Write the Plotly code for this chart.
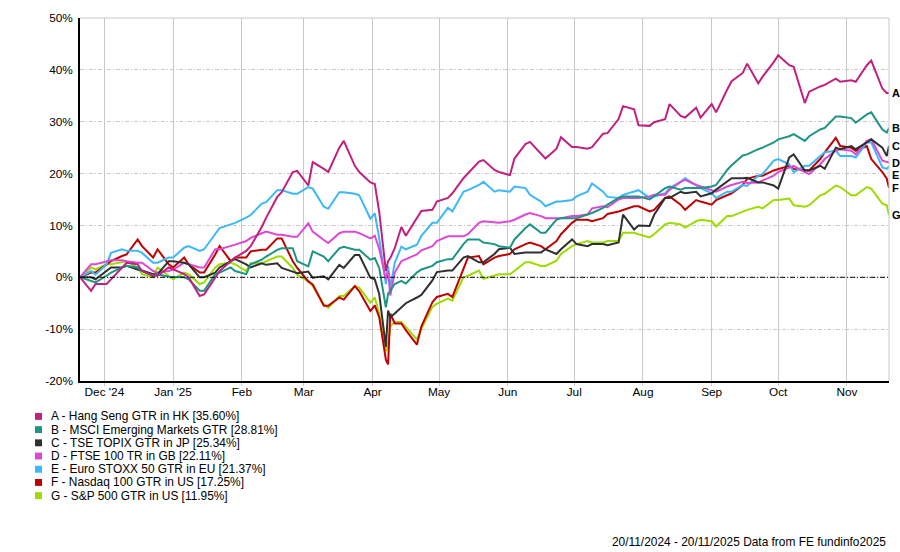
import plotly.graph_objects as go

# roughly twice-weekly closes (denser around the April sell-off), cumulative % return
dates = [
    "2024-11-20", "2024-11-25", "2024-11-27", "2024-12-02", "2024-12-04", "2024-12-09",
    "2024-12-11", "2024-12-16", "2024-12-18", "2024-12-23", "2024-12-25", "2024-12-30",
    "2025-01-01", "2025-01-06", "2025-01-08", "2025-01-13", "2025-01-15", "2025-01-20",
    "2025-01-22", "2025-01-27", "2025-01-29",
    "2025-02-03", "2025-02-05", "2025-02-10", "2025-02-12", "2025-02-17", "2025-02-19",
    "2025-02-24", "2025-02-26",
    "2025-03-03", "2025-03-05", "2025-03-10", "2025-03-12", "2025-03-17", "2025-03-19",
    "2025-03-24", "2025-03-26", "2025-03-31",
    "2025-04-02", "2025-04-04", "2025-04-07", "2025-04-08", "2025-04-09", "2025-04-11",
    "2025-04-14", "2025-04-16", "2025-04-21", "2025-04-23", "2025-04-28", "2025-04-30",
    "2025-05-05", "2025-05-07", "2025-05-12", "2025-05-14", "2025-05-19", "2025-05-21",
    "2025-05-26", "2025-05-28",
    "2025-06-02", "2025-06-04", "2025-06-09", "2025-06-11", "2025-06-16", "2025-06-18",
    "2025-06-23", "2025-06-25", "2025-06-30",
    "2025-07-02", "2025-07-07", "2025-07-09", "2025-07-14", "2025-07-16", "2025-07-21",
    "2025-07-23", "2025-07-28", "2025-07-30",
    "2025-08-04", "2025-08-06", "2025-08-11", "2025-08-13", "2025-08-18", "2025-08-20",
    "2025-08-25", "2025-08-27",
    "2025-09-01", "2025-09-03", "2025-09-08", "2025-09-10", "2025-09-15", "2025-09-17",
    "2025-09-22", "2025-09-24", "2025-09-29",
    "2025-10-01", "2025-10-06", "2025-10-08", "2025-10-13", "2025-10-15", "2025-10-20",
    "2025-10-22", "2025-10-27", "2025-10-29",
    "2025-11-03", "2025-11-05", "2025-11-10", "2025-11-12", "2025-11-17", "2025-11-19",
    "2025-11-20",
]

hang_seng = [
    0.0, -2.6, -1.3, -1.3, -0.4, 1.9, 2.8, 2.5, 1.2, 0.3, 0.3, 1.9,
    1.5, 0.6, 0.0, -3.6, -3.3, 0.0, 1.2, 3.1, 3.8,
    5.1, 6.0, 9.7, 11.5, 15.5, 16.4, 20.3, 20.5,
    17.7, 22.2, 20.9, 20.3, 25.0, 26.3, 21.5, 20.3, 18.3,
    18.0, 12.6, 1.2, 3.1, 3.7, 5.6, 9.7, 8.0, 11.3, 12.8, 13.0, 14.6,
    15.3, 16.2, 19.1, 20.0, 22.3, 22.6, 20.7, 20.3,
    19.7, 22.9, 25.7, 26.1, 23.8, 22.9, 24.8, 27.0, 25.1,
    25.1, 24.8, 25.1, 27.7, 27.8, 30.5, 33.0, 32.4, 29.3,
    29.2, 29.9, 30.5, 33.4, 31.1, 30.8, 32.7, 30.8,
    33.4, 31.8, 36.2, 37.8, 39.4, 41.2, 37.4, 38.7, 41.5,
    42.8, 40.9, 40.6, 33.6, 35.8, 36.8, 37.1, 38.3, 37.7,
    38.0, 37.7, 40.9, 41.8, 36.4, 35.5, 35.60,
]
msci_em = [
    0.0, -0.7, -1.0, 0.3, 0.9, 1.9, 2.2, 1.9, 1.2, 0.3, 0.6, 0.1,
    0.1, 0.0, -0.4, -2.6, -2.6, 0.6, 0.9, 1.9, 1.2,
    0.6, 2.5, 3.4, 4.0, 5.3, 5.6, 5.6, 3.1,
    2.1, 5.0, 4.0, 3.1, 5.6, 5.9, 5.3, 5.3, 3.4,
    3.7, 1.8, -5.8, -3.2, -2.6, -1.3, -0.7, -1.2, 0.9, 1.5, 2.2, 2.9,
    3.5, 3.5, 6.4, 7.3, 7.3, 6.7, 6.4, 6.0,
    5.7, 7.3, 9.5, 10.2, 8.6, 8.6, 11.1, 11.4, 11.4,
    11.4, 12.1, 12.4, 13.4, 14.0, 15.3, 15.6, 15.6, 15.6,
    15.0, 15.6, 17.2, 17.5, 16.9, 17.2, 17.2, 17.2,
    17.5, 17.8, 20.7, 21.6, 23.5, 23.7, 24.7, 25.0, 26.0,
    26.6, 27.2, 27.6, 26.3, 27.2, 28.5, 28.8, 31.0, 31.0,
    30.7, 29.8, 31.4, 31.8, 28.5, 27.9, 28.81,
]
topix = [
    0.0, 0.0, -0.4, 1.2, 1.9, 1.9, 2.2, 1.5, 1.3, 0.6, 0.6, 3.1,
    3.1, 2.8, 2.5, 0.0, 0.0, 0.9, 1.9, 3.1, 3.5,
    2.5, 1.9, 2.7, 2.4, 2.7, 1.8, 1.1, 0.8,
    1.1, -0.1, 0.2, -0.4, 2.4, 1.8, 4.3, 4.3, -0.1,
    -0.4, -3.2, -13.4, -6.4, -7.7, -7.0, -5.8, -5.0, -3.9, -3.4, -0.6, 1.0,
    1.3, 1.3, 3.8, 4.1, 2.9, 2.9, 4.5, 5.4,
    5.7, 4.5, 4.8, 4.8, 4.8, 5.4, 4.5, 5.4, 7.3,
    6.4, 6.0, 6.4, 6.4, 6.2, 6.7, 12.1, 9.2, 10.0,
    9.9, 12.0, 15.3, 15.3, 16.5, 16.2, 16.5, 15.6,
    16.2, 16.9, 18.4, 19.1, 19.1, 19.2, 18.3, 18.3, 17.7,
    17.1, 23.1, 23.7, 20.6, 20.6, 21.5, 20.9, 25.0, 24.7,
    25.3, 24.7, 26.0, 26.6, 25.0, 23.4, 25.34,
]
ftse100 = [
    0.0, 2.5, 2.5, 3.1, 3.3, 3.3, 3.1, 2.8, 2.8, 1.2, 0.9, 1.2,
    1.5, 2.8, 2.5, 1.9, 1.9, 5.4, 5.4, 6.0, 6.3,
    7.0, 7.6, 8.5, 8.8, 8.2, 8.2, 7.8, 7.8,
    10.4, 8.8, 7.2, 6.6, 8.5, 8.8, 8.8, 8.5, 7.5,
    8.0, 5.5, -0.4, 1.2, -3.5, 0.9, 3.1, 3.5, 4.4, 5.2, 6.0, 7.0,
    7.9, 7.9, 7.9, 8.3, 10.5, 10.8, 10.5, 10.5,
    10.8, 11.1, 12.1, 12.4, 11.8, 11.4, 11.4, 11.4, 11.8,
    11.8, 12.1, 13.3, 13.7, 13.5, 15.0, 15.3, 15.3, 15.3,
    15.6, 15.9, 15.9, 16.9, 18.4, 18.8, 17.8, 17.5,
    16.9, 16.5, 17.5, 17.8, 18.4, 18.2, 18.3, 18.7, 19.6,
    20.3, 21.2, 21.5, 20.3, 19.9, 21.8, 22.8, 24.4, 24.7,
    24.4, 23.7, 26.3, 26.6, 22.5, 22.2, 22.11,
]
euro_stoxx = [
    0.0, 1.2, 0.5, 2.5, 4.7, 5.4, 5.1, 5.1, 4.7, 2.8, 2.8, 3.8,
    3.8, 5.7, 6.0, 5.1, 5.4, 8.3, 9.5, 10.2, 10.5,
    11.5, 12.0, 14.2, 14.5, 16.8, 16.8, 16.1, 16.1,
    17.4, 17.1, 13.6, 13.2, 16.4, 16.4, 16.1, 15.8, 11.3,
    12.3, 7.5, -1.3, 2.2, -2.0, 2.8, 5.9, 5.4, 6.3, 8.0, 10.5, 10.5,
    13.4, 12.7, 16.5, 16.8, 17.8, 18.4, 16.5, 16.8,
    16.5, 17.5, 17.2, 15.9, 14.6, 13.7, 14.6, 14.6, 14.9,
    15.6, 16.5, 18.1, 16.5, 15.5, 15.3, 15.9, 16.5, 16.8,
    15.3, 15.6, 16.2, 17.2, 18.4, 19.1, 17.8, 17.2,
    16.2, 15.3, 16.5, 16.5, 17.8, 17.6, 19.6, 19.9, 22.5,
    22.8, 21.8, 20.3, 21.5, 21.5, 23.4, 24.1, 24.4, 23.4,
    23.4, 23.1, 26.0, 26.0, 21.2, 20.9, 21.37,
]
nasdaq100 = [
    0.0, 0.9, 0.9, 2.5, 3.1, 4.1, 4.4, 7.3, 6.0, 3.8, 5.4, 2.5,
    1.9, 3.8, 2.5, 0.9, 0.9, 4.4, 6.0, 3.1, 3.8,
    3.8, 5.0, 5.3, 5.3, 7.5, 7.5, 3.1, 1.8,
    -0.8, -1.4, -5.5, -5.5, -3.9, -4.3, -1.7, -2.7, -6.5,
    -5.4, -7.7, -15.9, -16.8, -7.0, -8.9, -8.9, -10.2, -13.0, -9.5, -4.8, -3.8,
    -3.2, -3.8, 1.9, 3.8, 4.1, 2.5, 3.8, 4.1,
    4.5, 5.4, 6.4, 6.7, 6.0, 5.4, 7.0, 8.3, 10.5,
    11.1, 11.1, 10.8, 11.4, 12.2, 12.7, 13.0, 13.7, 13.7,
    12.7, 13.0, 15.3, 15.6, 14.0, 13.0, 14.9, 14.6,
    14.0, 14.9, 15.9, 16.2, 17.8, 19.0, 19.6, 19.6, 20.6,
    20.9, 21.5, 20.9, 20.6, 20.6, 22.8, 24.1, 26.9, 25.3,
    25.0, 24.4, 25.3, 22.8, 20.3, 19.0, 17.25,
]
sp500 = [
    0.0, 1.9, 1.5, 2.5, 2.5, 3.0, 3.1, 1.9, 0.6, 0.0, 1.9, 0.3,
    -0.4, 0.9, 0.6, -1.3, -1.0, 1.9, 2.5, 2.8, 2.5,
    1.2, 2.7, 2.7, 3.1, 4.0, 4.0, 1.8, 0.5,
    -0.8, -1.7, -5.2, -5.9, -3.6, -3.6, -1.7, -2.0, -4.9,
    -3.9, -7.0, -14.3, -13.0, -9.5, -8.6, -8.6, -9.6, -12.0, -10.0, -5.7, -5.1,
    -4.1, -4.5, 0.0, 0.3, 1.3, -0.3, 0.3, 0.6,
    0.6, 1.3, 2.9, 2.9, 2.2, 2.2, 3.2, 4.5, 6.0,
    6.4, 7.0, 6.7, 6.7, 7.0, 7.0, 8.6, 8.6, 8.3,
    7.7, 8.3, 10.2, 10.5, 10.2, 9.6, 10.8, 11.1,
    10.8, 9.8, 11.8, 11.8, 12.7, 13.0, 13.6, 13.3, 14.9,
    14.9, 15.2, 13.9, 13.6, 13.9, 15.8, 16.1, 17.7, 17.4,
    15.8, 15.8, 17.4, 17.1, 14.2, 13.9, 11.95,
]

codes = ["A", "B", "C", "D", "E", "F", "G"]
names = [
    "Hang Seng GTR in HK",
    "MSCI Emerging Markets GTR",
    "TSE TOPIX GTR in JP",
    "FTSE 100 TR in GB",
    "Euro STOXX 50 GTR in EU",
    "Nasdaq 100 GTR in US",
    "S&P 500 GTR in US",
]
series = [hang_seng, msci_em, topix, ftse100, euro_stoxx, nasdaq100, sp500]
colors = ["#c0207f", "#1e9484", "#303030", "#dd48d4", "#3cb8f8", "#c00000", "#9edc00"]

for s in series:
    assert len(s) == len(dates), (len(s), len(dates))

month_ticks = ["2024-12-01", "2025-01-01", "2025-02-01", "2025-03-01", "2025-04-01", "2025-05-01",
               "2025-06-01", "2025-07-01", "2025-08-01", "2025-09-01", "2025-10-01", "2025-11-01"]
month_labels = ["Dec '24", "Jan '25", "Feb", "Mar", "Apr", "May",
                "Jun", "Jul", "Aug", "Sep", "Oct", "Nov"]
pct_ticks = [-20, -10, 0, 10, 20, 30, 40, 50]

FONT = "Liberation Sans, Arial, sans-serif"
# plot box in page pixels
L, R, T, B = 80, 889, 14, 381


def px(x):
    return (x - L) / (R - L)


def py(y):
    return (B - y) / (B - T)


fig = go.Figure()

# draw G first so A ends up on top
for i in reversed(range(len(series))):
    fig.add_trace(go.Scatter(x=dates, y=series[i], mode="lines",
                             line=dict(color=colors[i], width=2),
                             name=codes[i], showlegend=False, hoverinfo="skip"))

shapes = [
    dict(type="line", xref="paper", yref="y", x0=0, x1=1, y0=0, y1=0,
         line=dict(color="black", width=1, dash="5px,2px,1px,2px")),
    dict(type="line", xref="paper", yref="paper", x0=0, x1=1, y0=1, y1=1,
         line=dict(color="#c8c8c8", width=1)),
    dict(type="line", xref="paper", yref="paper", x0=1, x1=1, y0=0, y1=1,
         line=dict(color="#c8c8c8", width=1)),
]
annotations = []

# end labels, pushed apart so they don't collide
order = sorted(range(len(series)), key=lambda i: -series[i][-1])
prev = None
for i in order:
    yl = series[i][-1]
    if prev is not None:
        yl = min(yl, prev - 2.3)
    prev = yl
    annotations.append(dict(x=1, xref="paper", y=yl, yref="y", text="<b>%s</b>" % codes[i],
                            showarrow=False, xanchor="left", yanchor="middle", xshift=1,
                            font=dict(family=FONT, size=11, color="black")))

# legend block under the chart
row0, step = 416.8, 13.35
for i in range(len(series)):
    yc = row0 + i * step
    shapes.append(dict(type="rect", xref="paper", yref="paper",
                       x0=px(35), x1=px(42), y0=py(yc + 3.5), y1=py(yc - 3.5),
                       fillcolor=colors[i], line=dict(width=0)))
    annotations.append(dict(x=px(49), xref="paper", y=py(yc), yref="paper",
                            text="%s - %s [%.2f%%]" % (codes[i], names[i], series[i][-1]),
                            showarrow=False, xanchor="left", yanchor="middle",
                            font=dict(family=FONT, size=11.9, color="black")))

annotations.append(dict(x=px(888), xref="paper", y=py(544), yref="paper",
                        text="20/11/2024 - 20/11/2025 Data from FE fundinfo2025",
                        showarrow=False, xanchor="right", yanchor="middle",
                        font=dict(family=FONT, size=11.9, color="black")))

fig.update_layout(
    width=900, height=552,
    margin=dict(l=L, r=900 - R, t=T, b=552 - B),
    paper_bgcolor="white", plot_bgcolor="white",
    font=dict(family=FONT, size=11.8, color="black"),
    showlegend=False,
    shapes=shapes, annotations=annotations,
    xaxis=dict(type="date", range=["2024-11-20", "2025-11-20"],
               tickvals=month_ticks, ticktext=month_labels,
               showgrid=True, gridcolor="#c8c8c8", gridwidth=1,
               showline=True, linecolor="black", linewidth=1.5,
               ticks="outside", ticklen=3, tickcolor="#c8c8c8",
               ticklabelstandoff=-4, zeroline=False),
    yaxis=dict(range=[-20, 50], tickvals=pct_ticks,
               ticktext=["%d%%" % v for v in pct_ticks],
               showgrid=True, gridcolor="#c8c8c8", gridwidth=1, griddash="4px,2px,1px,2px",
               showline=True, linecolor="black", linewidth=1.5,
               ticks="", ticklabelstandoff=3, zeroline=False),
)

fig.write_html("out.html", config={"displayModeBar": False},
               post_script="document.body.style.margin='0px';")
